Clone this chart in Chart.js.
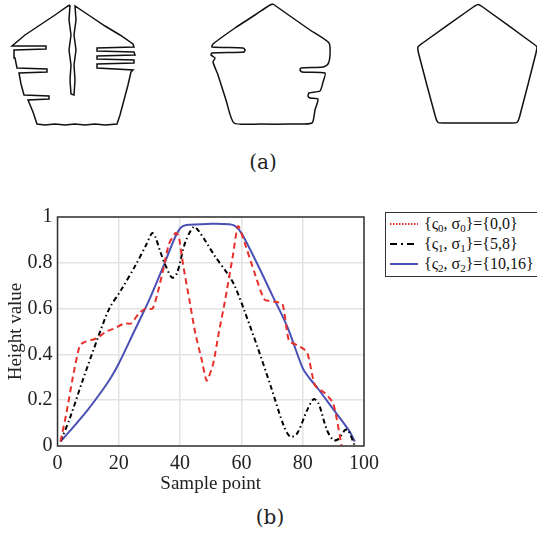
<!DOCTYPE html>
<html>
<head>
<meta charset="utf-8">
<script src="https://cdn.jsdelivr.net/npm/chart.js@4"></script>
<style>
  body { margin: 0; background: #fff; width: 537px; height: 535px; overflow: hidden; position: relative; font-family: "Liberation Serif", serif; }
  #shapesBox { position: absolute; left: 0; top: 0; width: 537px; height: 140px; }
  #mainBox { position: absolute; left: 0; top: 200px; width: 385px; height: 300px; }
  .cap { position: absolute; font-family: "DejaVu Serif", "Liberation Serif", serif; font-size: 20px; color: #222; transform: translate(-50%, -50%); }
  #legend { position: absolute; left: 385px; top: 212px; width: 170px; height: 65px; border: 1px solid #333; box-sizing: border-box; font-size: 16px; color: #111; }
  #legend div { height: 18px; line-height: 18px; display: flex; align-items: center; margin-top: 2px; }
  #legend svg { margin-left: 4px; margin-right: 6px; }
  sub { font-size: 11px; vertical-align: -3px; line-height: 0; }
</style>
</head>
<body>
<div id="shapesBox"><canvas id="shapes"></canvas></div>
<div class="cap" style="left:263px; top:162px;">(a)</div>
<div id="mainBox"><canvas id="dash"></canvas></div>
<div class="cap" style="left:270px; top:517px;">(b)</div>
<div id="legend">
  <div><svg width="28" height="4"><line x1="0" y1="2" x2="28" y2="2" stroke="#e8302a" stroke-width="2" stroke-dasharray="1.5,1.5"/></svg><span>{ς<sub>0</sub>, σ<sub>0</sub>}={0,0}</span></div>
  <div><svg width="28" height="4"><line x1="0" y1="2" x2="28" y2="2" stroke="#000" stroke-width="2" stroke-dasharray="7,4,2,4"/></svg><span>{ς<sub>1</sub>, σ<sub>1</sub>}={5,8}</span></div>
  <div><svg width="28" height="4"><line x1="0" y1="2" x2="28" y2="2" stroke="#4a50b4" stroke-width="2"/></svg><span>{ς<sub>2</sub>, σ<sub>2</sub>}={10,16}</span></div>
</div>
<script>
// (a) outlines, in picture units (x right, y down)
const shapeA_x = [70,69,71,69,71,70,71,74,75,74,76,74,76,75,90,105,120,133,134,97,97,134,135,97,97,134,134,97,97,133,131,128,124,120,117,105,95,85,75,65,55,45,37,33,28,49,49,24,21,19,47,47,17,15,14,46,46,12,25,40,55,68,70];
const shapeA_y = [5,20,35,50,65,80,94,95,80,65,50,35,20,6,16,26,35,44,47,48,51,52,55,56,59,60,63,64,68,70,72,85,100,115,124,125,124,125,124,125,124,125,124,112,100,99,96,95,84,73,72,69,68,58,50,49,46,46,35,25,15,6,5];
const shapeB_x = [273,290,310,329,330,328,323,301,300,302,325,323,320,309,308,310,318,315,312,290,260,234,226,218,213,215,211,212,244,245,243,212,213,235,255,270,273];
const shapeB_y = [4,16,30,43,55,64,67,68,70,72,73,82,91,93,96,98,99,110,123,124,124,123,100,75,62,58,55,53,52,50,48,47,44,28,15,5,4];
const shapeC_x = [474,478,482,533,537,536,519.5,517,512,443,438,435.5,418.5,418,422,474];
const shapeC_y = [6.5,4.5,6.5,43.5,47,53,117,122.5,123,123,122.5,117,53,47,43.5,6.5];

// (b) height profiles
const red_x = [1,3,5,7.3,9,12.7,15.9,18,21.8,24,26.6,28.8,31,32.5,34.5,36.3,38.5,39.5,41,43,45,47,48.7,50.8,52.7,54.6,57.2,58.9,61,64.2,67.5,70.7,73.4,75.5,78.2,81.4,84,87.3,90,92.7];
const red_y = [0.02,0.15,0.3,0.44,0.455,0.47,0.5,0.51,0.535,0.535,0.58,0.6,0.6,0.66,0.77,0.88,0.93,0.92,0.79,0.64,0.49,0.38,0.285,0.36,0.5,0.63,0.83,0.96,0.89,0.76,0.64,0.63,0.62,0.46,0.44,0.41,0.265,0.23,0.185,0];
const black_x = [1,4,8.3,13.1,16.9,20.7,25.5,29,30.9,32,33.5,35.2,37.4,39,41.7,44.4,46,48.5,51.3,55.6,57.8,61,65.3,69.6,73.9,76,78.2,81.4,83.6,85.2,87.9,90,91.6,93.8,94.8,97];
const black_y = [0.02,0.12,0.29,0.47,0.6,0.68,0.79,0.88,0.93,0.91,0.85,0.79,0.735,0.755,0.89,0.957,0.94,0.89,0.83,0.75,0.7,0.59,0.43,0.26,0.085,0.04,0.055,0.155,0.205,0.185,0.07,0.026,0.03,0.07,0.07,0];
const blue_x = [1,5,10,15,17.5,20,25,30,35,38,40,42,50,56,58,60,65,70,75,80,82,85,90,95,97];
const blue_y = [0.02,0.08,0.16,0.25,0.3,0.36,0.5,0.64,0.8,0.9,0.95,0.965,0.97,0.968,0.96,0.93,0.8,0.66,0.52,0.34,0.3,0.25,0.16,0.07,0.02];
const xTicks = [0,20,40,60,80,100];
const yTicks = [0,0.2,0.4,0.6,0.8,1];
const yTickLabels = ['0','0.2','0.4','0.6','0.8','1'];

const pts = (xs, ys) => xs.map((x, i) => ({ x: x, y: ys[i] }));

let graf_shapes = new Chart(
  document.getElementById('shapes'),
  {
    type: 'scatter',
    options: {
      animation: false,
      responsive: true,
      maintainAspectRatio: false,
      layout: { padding: 0 },
      plugins: { legend: { display: false }, tooltip: { enabled: false } },
      scales: {
        x: { type: 'linear', display: false, min: 0, max: 537 },
        y: { type: 'linear', display: false, min: 0, max: 140, reverse: true }
      }
    },
    data: {
      datasets: [
        { data: pts(shapeA_x, shapeA_y), showLine: true, borderColor: '#111', borderWidth: 1.5, pointRadius: 0, tension: 0 },
        { data: pts(shapeB_x, shapeB_y), showLine: true, borderColor: '#111', borderWidth: 1.5, pointRadius: 0, tension: 0.2 },
        { data: pts(shapeC_x, shapeC_y), showLine: true, borderColor: '#111', borderWidth: 1.5, pointRadius: 0, tension: 0.2 }
      ]
    }
  }
);

// box round the plot area, like the original frame
const frame = {
  id: 'frame',
  afterDraw(chart) {
    const a = chart.chartArea, ctx = chart.ctx;
    ctx.save();
    ctx.strokeStyle = '#333';
    ctx.lineWidth = 1.5;
    ctx.strokeRect(a.left, a.top, a.right - a.left, a.bottom - a.top);
    ctx.restore();
  }
};

const serif = "'Liberation Serif', 'Times New Roman', serif";

let graf_1 = new Chart(
  document.getElementById('dash'),
  {
    type: 'scatter',
    plugins: [frame],
    options: {
      animation: false,
      responsive: true,
      maintainAspectRatio: false,
      layout: { padding: { left: 0, right: 17.5, top: 15, bottom: 0 } },
      plugins: { legend: { display: false }, tooltip: { enabled: false } },
      scales: {
        x: {
          type: 'linear', min: 0, max: 100,
          afterBuildTicks: s => { s.ticks = xTicks.map(v => ({ value: v })); },
          afterFit: s => { s.height = 54; },
          grid: { color: '#e3e3e3', lineWidth: 1.5, drawTicks: false },
          border: { display: false },
          ticks: { color: '#222', font: { family: serif, size: 20 }, padding: 6, maxRotation: 0 },
          title: { display: true, text: 'Sample point', color: '#222', font: { family: serif, size: 19 }, padding: { top: 0, bottom: 5 } }
        },
        y: {
          type: 'linear', min: 0, max: 1,
          afterBuildTicks: s => { s.ticks = yTicks.map(v => ({ value: v })); },
          afterFit: s => { s.width = 57.5; },
          grid: { color: '#e3e3e3', lineWidth: 1.5, drawTicks: false },
          border: { display: false },
          ticks: { color: '#222', font: { family: serif, size: 20 }, padding: 5, callback: (v, i) => yTickLabels[i] },
          title: { display: true, text: 'Height value', color: '#222', font: { family: serif, size: 19 }, padding: { top: 5, bottom: 0 } }
        }
      }
    },
    data: {
      datasets: [
        { label: '{ς0, σ0}={0,0}', data: pts(red_x, red_y), showLine: true, borderColor: '#e8302a', borderWidth: 2, borderDash: [6, 4], pointRadius: 0, tension: 0.2 },
        { label: '{ς1, σ1}={5,8}', data: pts(black_x, black_y), showLine: true, borderColor: '#000', borderWidth: 2, borderDash: [5, 3, 1.5, 3], pointRadius: 0, tension: 0.3 },
        { label: '{ς2, σ2}={10,16}', data: pts(blue_x, blue_y), showLine: true, borderColor: '#4a50b4', borderWidth: 2, pointRadius: 0, tension: 0.3 }
      ]
    }
  }
);
</script>
</body>
</html>
